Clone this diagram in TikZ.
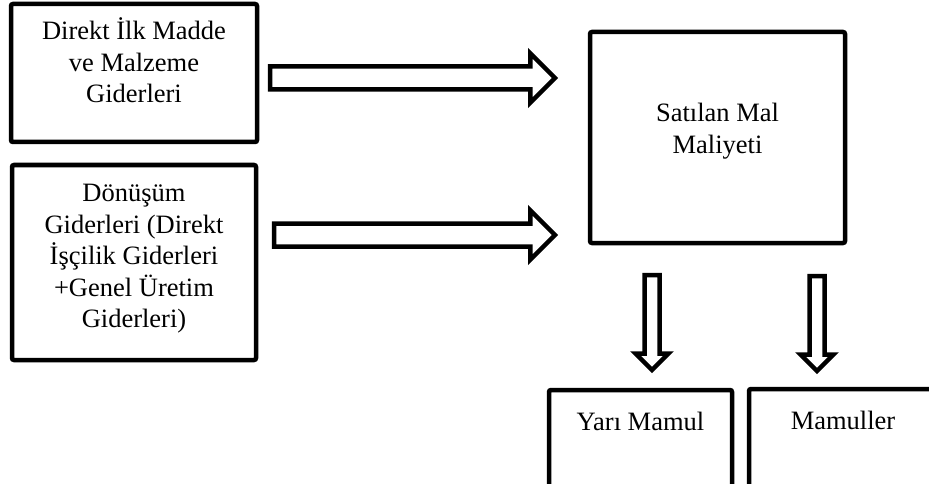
\documentclass[tikz,border=0pt]{standalone}
\usepackage{fontspec}
\setmainfont{Liberation Serif}
\usetikzlibrary{positioning,shapes.arrows,calc}

\begin{document}
\begin{tikzpicture}[
  x=1pt,y=-1pt,
  box/.style={rectangle,draw=black,line width=4.5pt,rounded corners=2pt,align=center,
              font=\fontsize{26.5}{31.5}\selectfont,inner sep=0pt,outer sep=0pt},
  harr/.style={single arrow,draw=black,fill=white,line width=4.5pt,line join=miter,
               single arrow head extend=13.25pt,single arrow tip angle=90,
               inner sep=0pt,outer sep=0pt,anchor=tail},
  varr/.style={harr,rotate=-90,single arrow head extend=9pt},
]
\clip (0,0) rectangle (929,484);

% input boxes on the left
\node[box,minimum width=246pt,minimum height=138pt,text depth=25pt] (dilk) at (134,73)
   {Direkt İlk Madde\\ve Malzeme\\Giderleri};
\node[box,minimum width=244pt,minimum height=195pt,text depth=13pt] (donusum) at (134,262.5)
   {Dönüşüm\\Giderleri (Direkt\\İşçilik Giderleri\\+Genel Üretim\\Giderleri)};

% cost of goods sold
\node[box,minimum width=255pt,minimum height=211pt,text depth=18pt] (sml) at (717.5,137.5)
   {Satılan Mal\\Maliyeti};

% block arrows into the cost box
\node[harr,minimum height=285pt] (a1) at ($(dilk.east)+(13,5)$) {\rule{0pt}{18.5pt}};
\node[harr,minimum height=281pt] (a2) at ($(donusum.east)+(18,-27.5)$) {\rule{0pt}{18.5pt}};

% block arrows down to the outputs
\node[varr,minimum height=95pt] (d1) at ($(sml.south)+(-65.5,32)$) {\rule{0pt}{10.5pt}};
\node[varr,minimum height=95pt] (d2) at ($(sml.south)+(99.5,33)$) {\rule{0pt}{10.5pt}};

% output boxes (cut off by the page edge)
\node[box,anchor=north west,minimum width=183pt,inner ysep=20pt,text height=20pt,text depth=110pt]
   (yari) at (549,390) {Yarı Mamul};
\node[box,anchor=north west,minimum width=188pt,inner ysep=20pt,text height=20pt,text depth=110pt]
   (mamul) at (749,389) {Mamuller};
\end{tikzpicture}
\end{document}
